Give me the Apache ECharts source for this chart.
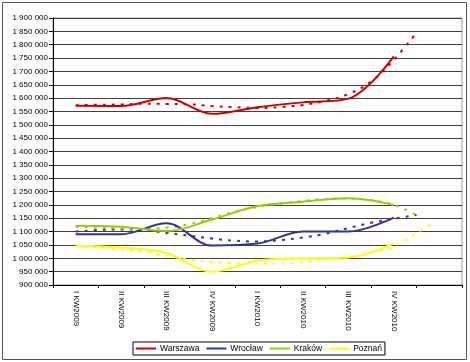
<!DOCTYPE html>
<html>
<head>
<meta charset="utf-8">
<script src="https://cdn.jsdelivr.net/npm/echarts@6/dist/echarts.min.js"></script>
<style>
html,body{margin:0;padding:0;background:#fff;}
#chart{width:470px;height:362px;}
</style>
</head>
<body>
<div id="chart"></div>
<script>
// ---- data ----
const categories = ['I KW2009', 'II KW2009', 'III KW2009', 'IV KW2009', 'I KW2010', 'II KW2010', 'III KW2010', 'IV KW2010', ''];
const seriesNames = ['Warszawa', 'Wrocław', 'Kraków', 'Poznań'];
const warszawa = [1571000, 1570000, 1600000, 1541000, 1566000, 1584000, 1598000, 1756000];
const wroclaw  = [1090000, 1090000, 1131000, 1048000, 1055000, 1100000, 1100000, 1152000];
const krakow   = [1122000, 1118000, 1102000, 1145000, 1196000, 1212000, 1225000, 1200000];
const poznan   = [1047000, 1040000, 1020000,  950000,  992000, 1000000, 1003000, 1056000];

// trend lines, positions in category units (0.5 = centre of first category)
const trendX = [0.5, 1, 1.5, 2, 2.5, 3, 3.5, 4, 4.5, 5, 5.5, 6, 6.5, 7, 7.5, 8];
const warszawaTrend = [1573000, 1575000, 1576000, 1579000, 1578000, 1577000, 1570000, 1566000, 1563000, 1566000, 1574000, 1590000, 1615000, 1662000, 1744000, 1845000];
const wroclawTrend  = [1100000, 1106000, 1108000, 1106000, 1095000, 1085000, 1074000, 1066000, 1063000, 1068000, 1078000, 1092000, 1113000, 1133000, 1148000, 1162000];
const krakowTrend   = [1118000, 1115000, 1112000, 1110000, 1115000, 1128000, 1150000, 1175000, 1192000, 1205000, 1215000, 1222000, 1224000, 1218000, 1200000, 1162000];
const poznanTrendX  = [0.5, 1, 1.5, 2, 2.5, 3, 3.5, 4, 4.5, 5, 5.5, 6, 6.5, 7, 7.5, 8, 8.4];
const poznanTrend   = [1045000, 1040000, 1033000, 1025000, 1010000, 995000, 985000, 982000, 980000, 980000, 985000, 995000, 1005000, 1020000, 1045000, 1095000, 1137000];

const yMin = 900000, yMax = 1900000, yStep = 50000;
const colors = ['#CC0000', '#333399', '#99CC00', '#FFFF00'];

function fmt(v) {
  return String(v).replace(/\B(?=(\d{3})+(?!\d))/g, ' ');
}
function pairs(xs, ys) { return xs.map((x, i) => [x, ys[i]]); }

const chart = echarts.init(document.getElementById('chart'), null, {renderer: 'canvas'});
const font = 'Arial, "Liberation Sans", sans-serif';

const solid = [warszawa, wroclaw, krakow, poznan];
const trends = [pairs(trendX, warszawaTrend), pairs(trendX, wroclawTrend), pairs(trendX, krakowTrend), pairs(poznanTrendX, poznanTrend)];

const series = [];
trends.forEach((d, i) => {
  series.push({
    name: seriesNames[i] + ' trend', type: 'line', xAxisIndex: 1, yAxisIndex: 0,
    data: d, smooth: 0.4, symbol: 'none', silent: true,
    lineStyle: {color: colors[i], width: 2, type: [3, 6], cap: 'butt'}
  });
});
solid.forEach((d, i) => {
  series.push({
    name: seriesNames[i], type: 'line', xAxisIndex: 0, yAxisIndex: 0,
    data: d, smooth: 0.35, symbol: 'none',
    itemStyle: {color: colors[i]},
    lineStyle: {color: colors[i], width: 2}
  });
});

chart.setOption({
  animation: false,
  backgroundColor: '#ffffff',
  graphic: [{
    type: 'rect', shape: {x: 2.5, y: 2.5, width: 464, height: 357},
    style: {fill: 'none', stroke: '#555', lineWidth: 1}, silent: true, z: -1
  }],
  grid: {left: 53, right: 8, top: 18, bottom: 77, show: true, borderColor: '#999', borderWidth: 1, backgroundColor: 'transparent'},
  legend: {
    data: seriesNames, left: 133, top: 342, orient: 'horizontal',
    padding: [2, 3, 2, 3], itemGap: 7, itemWidth: 20, itemHeight: 2, icon: 'rect',
    borderColor: '#000', borderWidth: 1, backgroundColor: '#fff',
    textStyle: {fontSize: 8.5, fontFamily: font, color: '#000', padding: [0, 0, 0, -1]}
  },
  xAxis: [{
    type: 'category', data: categories, boundaryGap: true,
    axisLine: {lineStyle: {color: '#000', width: 1}},
    axisTick: {show: true, interval: 0, length: 3, lineStyle: {color: '#000'}},
    axisLabel: {rotate: -90, interval: 0, fontSize: 8, fontFamily: font, color: '#000', margin: 6},
    splitLine: {show: false}
  }, {
    type: 'value', min: 0, max: categories.length, show: false
  }],
  yAxis: {
    type: 'value', min: yMin, max: yMax, interval: yStep,
    axisLine: {show: true, lineStyle: {color: '#000', width: 1}},
    axisTick: {show: true, length: 4, lineStyle: {color: '#000'}},
    axisLabel: {formatter: fmt, fontSize: 8, fontFamily: font, color: '#000', margin: 5},
    splitLine: {show: true, lineStyle: {color: '#404040', width: 1}}
  },
  series: series
});
</script>
</body>
</html>
